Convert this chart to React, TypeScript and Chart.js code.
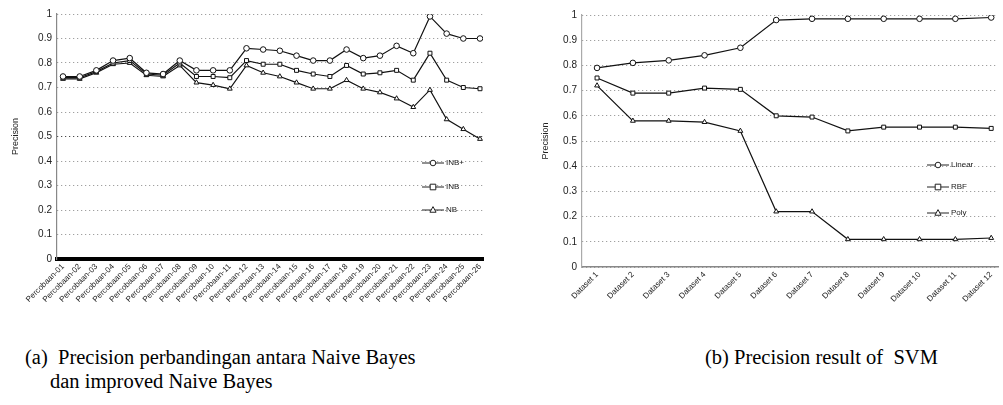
import React, { useEffect, useRef } from 'react';
import { Chart, registerables } from 'chart.js';

Chart.register(...registerables);
Chart.defaults.font.family = '"Liberation Sans", Arial, sans-serif';

// ---------- Data: chart (a) ----------
const leftLabels = [
  'Percobaan-01', 'Percobaan-02', 'Percobaan-03', 'Percobaan-04', 'Percobaan-05', 'Percobaan-06',
  'Percobaan-07', 'Percobaan-08', 'Percobaan-09', 'Percobaan-10', 'Percobaan-11', 'Percobaan-12',
  'Percobaan-13', 'Percobaan-14', 'Percobaan-15', 'Percobaan-16', 'Percobaan-17', 'Percobaan-18',
  'Percobaan-19', 'Percobaan-20', 'Percobaan-21', 'Percobaan-22', 'Percobaan-23', 'Percobaan-24',
  'Percobaan-25', 'Percobaan-26',
];
const leftSeriesNames = ['INB+', 'INB', 'NB'];
const leftTop = [0.745, 0.745, 0.77, 0.81, 0.82, 0.76, 0.755, 0.81, 0.77, 0.77, 0.77, 0.86, 0.855,
  0.85, 0.83, 0.81, 0.81, 0.855, 0.82, 0.83, 0.87, 0.84, 0.99, 0.92, 0.9, 0.9];
const leftMid = [0.74, 0.74, 0.765, 0.8, 0.81, 0.755, 0.75, 0.8, 0.745, 0.745, 0.74, 0.81, 0.795,
  0.795, 0.77, 0.755, 0.745, 0.79, 0.755, 0.76, 0.77, 0.73, 0.84, 0.73, 0.7, 0.695];
const leftLow = [0.735, 0.735, 0.76, 0.795, 0.8, 0.75, 0.745, 0.79, 0.72, 0.71, 0.695, 0.79, 0.76,
  0.745, 0.72, 0.695, 0.695, 0.73, 0.695, 0.68, 0.655, 0.62, 0.69, 0.57, 0.53, 0.49];

// ---------- Data: chart (b) ----------
const rightLabels = [
  'Dataset 1', 'Dataset 2', 'Dataset 3', 'Dataset 4', 'Dataset 5', 'Dataset 6',
  'Dataset 7', 'Dataset 8', 'Dataset 9', 'Dataset 10', 'Dataset 11', 'Dataset 12',
];
const rightSeriesNames = ['Linear', 'RBF', 'Poly'];
const rightTop = [0.79, 0.81, 0.82, 0.84, 0.87, 0.98, 0.985, 0.985, 0.985, 0.985, 0.985, 0.99];
const rightMid = [0.75, 0.69, 0.69, 0.71, 0.705, 0.6, 0.595, 0.54, 0.555, 0.555, 0.555, 0.55];
const rightLow = [0.72, 0.58, 0.58, 0.575, 0.54, 0.22, 0.22, 0.11, 0.11, 0.11, 0.11, 0.115];

const yAxisTitle = 'Precision';
const captionA1 = '(a)  Precision perbandingan antara Naive Bayes';
const captionA2 = 'dan improved Naive Bayes';
const captionB = '(b) Precision result of  SVM';

const markerStyles = ['circle', 'rect', 'triangle'];

function drawMarker(ctx: CanvasRenderingContext2D, style: string, x: number, y: number, r: number) {
  ctx.beginPath();
  if (style === 'rect') {
    ctx.rect(x - r, y - r, 2 * r, 2 * r);
  } else if (style === 'triangle') {
    ctx.moveTo(x, y - r * 1.2);
    ctx.lineTo(x + r * 1.1, y + r * 0.8);
    ctx.lineTo(x - r * 1.1, y + r * 0.8);
    ctx.closePath();
  } else {
    ctx.arc(x, y, r, 0, Math.PI * 2);
  }
  ctx.fillStyle = '#fff';
  ctx.fill();
  ctx.stroke();
}

const insideLegend = {
  id: 'insideLegend',
  afterDraw(chart: any, _args: any, opts: any) {
    if (!opts || !opts.rows) return;
    const { ctx, chartArea } = chart;
    ctx.save();
    chart.data.datasets.forEach((ds: any, i: number) => {
      const y = chartArea.top + opts.rows[i];
      const x0 = chartArea.left + opts.dx;
      const x1 = x0 + opts.len;
      ctx.strokeStyle = '#222';
      ctx.lineWidth = 1;
      ctx.beginPath();
      ctx.moveTo(x0, y);
      ctx.lineTo(x1, y);
      ctx.stroke();
      drawMarker(ctx, ds.pointStyle, (x0 + x1) / 2, y, 2.8);
      ctx.fillStyle = '#222';
      ctx.font = '8px "Liberation Sans", Arial, sans-serif';
      ctx.textBaseline = 'middle';
      ctx.textAlign = 'left';
      ctx.fillText(ds.label, x1 + 2, y);
    });
    ctx.restore();
  },
};

type Spec = {
  labels: string[];
  names: string[];
  series: number[][];
  xMin: number;
  xMax: number;
  yWidth: number;
  xHeight: number;
  padding: { left: number; right: number; top: number; bottom: number };
  xBorder: { color: string; width: number };
  yBorderColor: string;
  strongGrid: number | null;
  legend: { dx: number; len: number; rows: number[] };
};

function makeConfig(s: Spec): any {
  return {
    type: 'line',
    data: {
      datasets: s.series.map((vals, i) => ({
        label: s.names[i],
        data: vals.map((v, j) => ({ x: j, y: v })),
        borderColor: '#111',
        borderWidth: 1.2,
        pointStyle: markerStyles[i],
        pointRadius: 2.8,
        pointBorderWidth: 1,
        pointBorderColor: '#111',
        pointBackgroundColor: '#ffffff',
        tension: 0,
        fill: false,
      })),
    },
    plugins: [insideLegend],
    options: {
      animation: false,
      responsive: false,
      devicePixelRatio: 1,
      layout: { padding: s.padding },
      plugins: {
        legend: { display: false },
        tooltip: { enabled: false },
        insideLegend: s.legend,
      },
      scales: {
        x: {
          type: 'linear',
          min: s.xMin,
          max: s.xMax,
          afterBuildTicks: (scale: any) => {
            scale.ticks = s.labels.map((_, i) => ({ value: i }));
          },
          afterFit: (scale: any) => {
            scale.height = s.xHeight;
          },
          ticks: {
            autoSkip: false,
            minRotation: 45,
            maxRotation: 45,
            padding: 3,
            color: '#222',
            font: { size: 8 },
            callback: (v: number) => s.labels[Math.round(v)] ?? '',
          },
          grid: { display: false, drawTicks: false },
          border: { display: true, color: s.xBorder.color, width: s.xBorder.width },
        },
        y: {
          min: 0,
          max: 1,
          afterFit: (scale: any) => {
            scale.width = s.yWidth;
          },
          ticks: {
            stepSize: 0.1,
            padding: 5,
            color: '#222',
            font: { size: 10 },
            callback: (v: number) => {
              const r = Math.round(v * 10) / 10;
              return r === 0 || r === 1 ? String(r) : r.toFixed(1);
            },
          },
          grid: {
            drawTicks: false,
            lineWidth: 1,
            color: (ctx: any) =>
              s.strongGrid !== null && ctx.tick && Math.abs(ctx.tick.value - s.strongGrid) < 1e-6
                ? '#222'
                : '#8a8a8a',
          },
          border: { display: true, color: s.yBorderColor, width: 1.2, dash: [1, 3] },
          title: { display: true, text: yAxisTitle, color: '#222', font: { size: 9 }, padding: 4 },
        },
      },
    },
  };
}

function ChartBox({ spec, left, width, height }: { spec: Spec; left: number; width: number; height: number }) {
  const ref = useRef<HTMLCanvasElement>(null);
  useEffect(() => {
    if (!ref.current) return;
    const chart = new Chart(ref.current, makeConfig(spec));
    return () => chart.destroy();
  }, [spec]);
  return (
    <canvas
      ref={ref}
      width={width}
      height={height}
      style={{ position: 'absolute', left, top: 0, width, height }}
    />
  );
}

function Caption({ text, left, top }: { text: string; left: number; top: number }) {
  return (
    <span
      style={{
        position: 'absolute',
        left,
        top,
        whiteSpace: 'pre',
        fontFamily: '"Liberation Serif", "Times New Roman", serif',
        fontSize: 20.5,
        lineHeight: '22px',
        color: '#000',
      }}
    >
      {text}
    </span>
  );
}

const leftSpec: Spec = {
  labels: leftLabels,
  names: leftSeriesNames,
  series: [leftTop, leftMid, leftLow],
  xMin: -0.36,
  xMax: 25.18,
  yWidth: 51,
  xHeight: 71,
  padding: { left: 6, right: 7, top: 14, bottom: 0 },
  xBorder: { color: '#000', width: 4 },
  yBorderColor: '#888',
  strongGrid: 0.5,
  legend: { dx: 365, len: 22, rows: [149, 173, 196] },
};

const rightSpec: Spec = {
  labels: rightLabels,
  names: rightSeriesNames,
  series: [rightTop, rightMid, rightLow],
  xMin: -0.42,
  xMax: 11.19,
  yWidth: 46,
  xHeight: 63,
  padding: { left: 6, right: 3, top: 15, bottom: 0 },
  xBorder: { color: '#888', width: 1.5 },
  yBorderColor: '#aaa',
  strongGrid: null,
  legend: { dx: 345, len: 22, rows: [150, 172, 198] },
};

export default function App() {
  return (
    <div
      style={{
        position: 'absolute',
        left: 0,
        top: 0,
        width: 1003,
        height: 405,
        background: '#fff',
        overflow: 'hidden',
      }}
    >
      <ChartBox spec={leftSpec} left={0} width={490} height={330} />
      <ChartBox spec={rightSpec} left={530} width={473} height={330} />
      <Caption text={captionA1} left={25} top={346} />
      <Caption text={captionA2} left={50} top={370} />
      <Caption text={captionB} left={705} top={346} />
    </div>
  );
}
